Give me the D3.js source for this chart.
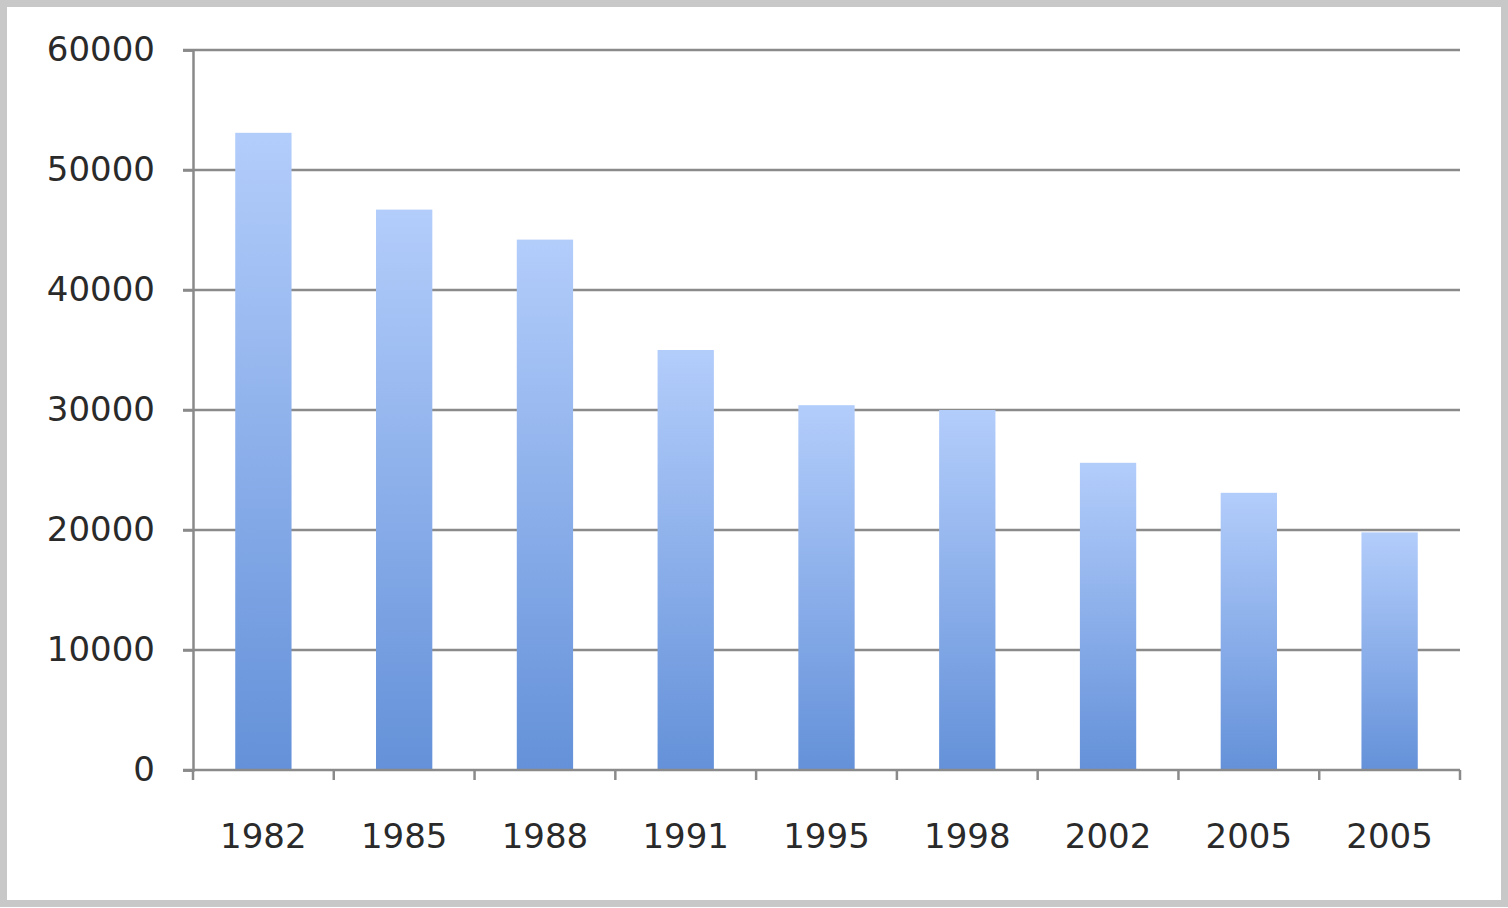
<!DOCTYPE html>
<html>
<head>
<meta charset="utf-8">
<script src="https://cdn.jsdelivr.net/npm/d3@7"></script>
<style>
  body { margin: 0; background: #fff; }
  text { font-family: "DejaVu Sans", sans-serif; fill: #2a2a2a; }
</style>
</head>
<body>
<div id="chart"></div>
<script>
var years = ["1982", "1985", "1988", "1991", "1995", "1998", "2002", "2005", "2005"];
var values = [53100, 46700, 44200, 35000, 30400, 30000, 25600, 23100, 19800];
var yTicks = [0, 10000, 20000, 30000, 40000, 50000, 60000];

var width = 1508;
var height = 908;
var margin = { top: 50, right: 48, bottom: 138, left: 193 };

var svg = d3.select("#chart")
    .append("svg")
    .attr("width", width)
    .attr("height", height);

// outer frame
svg.append("rect")
    .attr("x", 3.5).attr("y", 3.5)
    .attr("width", width - 7).attr("height", height - 8)
    .attr("fill", "#fff")
    .attr("stroke", "#c8c8c8")
    .attr("stroke-width", 7);

var defs = svg.append("defs");
var grad = defs.append("linearGradient")
    .attr("id", "barGrad")
    .attr("x1", 0).attr("y1", 0).attr("x2", 0).attr("y2", 1);
grad.append("stop").attr("offset", "0%").attr("stop-color", "#b3cdfb");
grad.append("stop").attr("offset", "100%").attr("stop-color", "#6491d9");

var x = d3.scaleBand()
    .domain(d3.range(years.length))
    .range([margin.left, width - margin.right])
    .paddingInner(0.6)
    .paddingOuter(0.3);

var y = d3.scaleLinear()
    .domain([0, 60000])
    .range([height - margin.bottom, margin.top]);

// grid lines
var g = svg.append("g");
g.selectAll(".grid")
    .data(yTicks.slice(1))
    .enter().append("line")
    .attr("class", "grid")
    .attr("x1", margin.left - 10)
    .attr("x2", width - margin.right)
    .attr("y1", d => y(d))
    .attr("y2", d => y(d))
    .attr("stroke", "#8a8a8a")
    .attr("stroke-width", 2.5);

// bars
g.selectAll(".bar")
    .data(values)
    .enter().append("rect")
    .attr("class", "bar")
    .attr("x", (d, i) => x(i))
    .attr("width", x.bandwidth())
    .attr("y", d => y(d))
    .attr("height", d => y(0) - y(d))
    .attr("fill", "url(#barGrad)");

// y axis
var yAxis = svg.append("g")
    .attr("transform", "translate(" + margin.left + ",0)")
    .call(d3.axisLeft(y).tickValues(yTicks).tickSize(10).tickPadding(28).tickFormat(d3.format("d")));
yAxis.selectAll("path, line").attr("stroke", "#8a8a8a").attr("stroke-width", 2.5);
yAxis.selectAll("text").style("font-size", "34px");

// x axis with ticks at band boundaries
var xAxisG = svg.append("g")
    .attr("transform", "translate(0," + y(0) + ")");
xAxisG.append("line")
    .attr("x1", margin.left - 10)
    .attr("x2", width - margin.right)
    .attr("stroke", "#8a8a8a").attr("stroke-width", 2.5);
var step = x.step();
var bounds = d3.range(years.length + 1).map(i => margin.left + i * step);
xAxisG.selectAll(".xtick")
    .data(bounds)
    .enter().append("line")
    .attr("class", "xtick")
    .attr("x1", d => d).attr("x2", d => d)
    .attr("y1", 0).attr("y2", 10)
    .attr("stroke", "#8a8a8a").attr("stroke-width", 2.5);
xAxisG.selectAll(".xlabel")
    .data(years)
    .enter().append("text")
    .attr("class", "xlabel")
    .attr("x", (d, i) => x(i) + x.bandwidth() / 2)
    .attr("y", 78)
    .attr("text-anchor", "middle")
    .style("font-size", "34px")
    .text(d => d);
</script>
</body>
</html>
